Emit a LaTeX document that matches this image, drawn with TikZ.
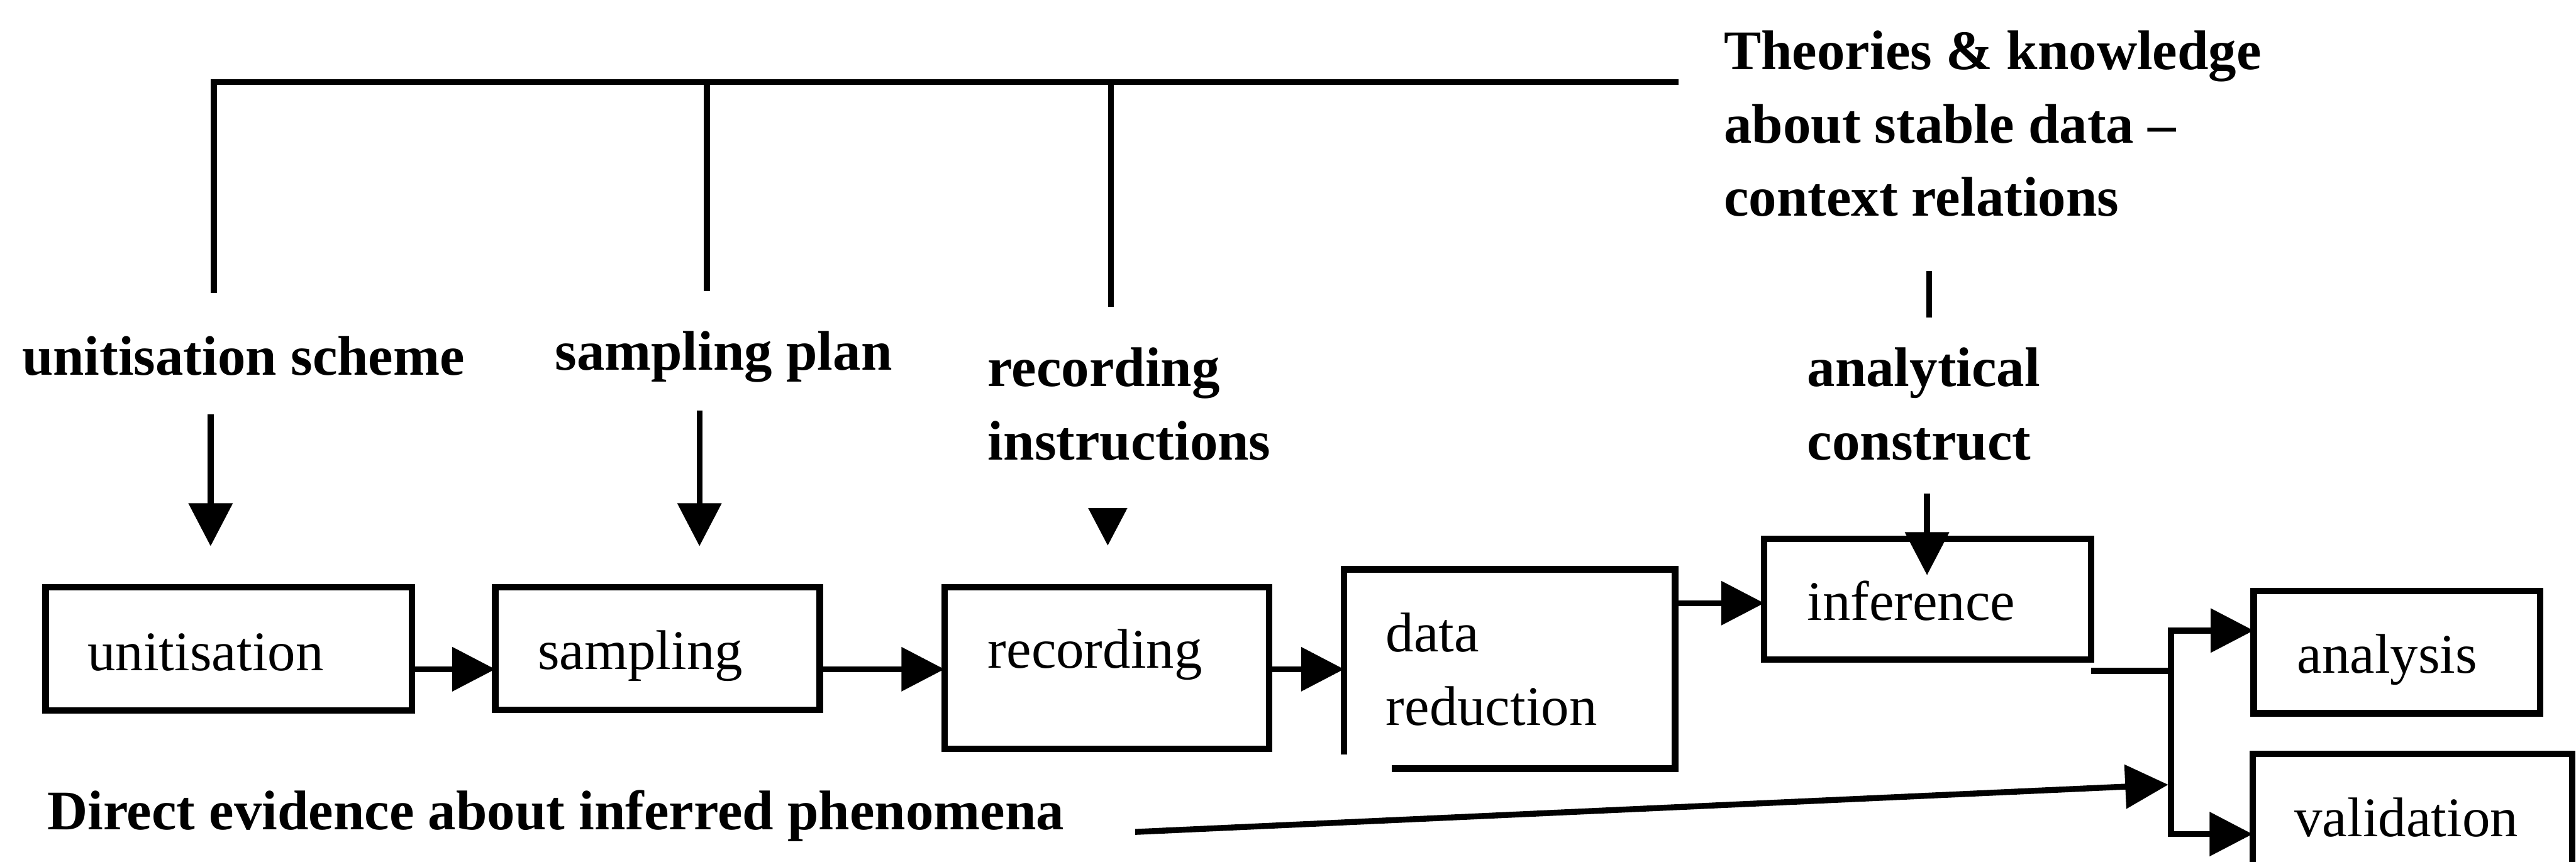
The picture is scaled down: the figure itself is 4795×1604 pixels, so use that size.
\documentclass[tikz,border=0pt]{standalone}
\usepackage{fontspec}
\setmainfont{Liberation Serif}
\usetikzlibrary{arrows.meta,calc,fit}
\begin{document}
\begin{tikzpicture}[x=0.01cm, y=-0.01cm,
  line width=1.1mm, line join=miter,
  every node/.style={inner sep=0pt, outer sep=0pt},
  boxline/.style={line width=1.2mm},
  box/.style={draw, boxline, rectangle},
  arr/.style={-{Triangle[length=8mm,width=8mm]}},
  smallarr/.style={-{Triangle[length=7mm,width=7mm]}},
  lbl/.style={font=\fontsize{29.6pt}{38.7pt}\selectfont\bfseries, align=left, anchor=base west},
  txt/.style={font=\fontsize{29.6pt}{38.7pt}\selectfont, align=left, anchor=base west}]

% canvas
\clip (0,0) rectangle (4795,1604);
\fill[white] (0,0) rectangle (4795,1604);

% process boxes
\node[box, fit={(85,1093) (767,1323)}] (ut) {};
\node[box, fit={(922,1093) (1526,1322)}] (sp) {};
\node[box, fit={(1758,1093) (2362,1394)}] (rec) {};
\node[fit={(2502,1060) (3118,1431)}] (dr) {};
\node[box, fit={(3284,1003) (3892,1228)}] (inf) {};
\node[box, fit={(4195,1100) (4728,1328)}] (an) {};
\node[box, fit={(4193,1404) (4788,1700)}] (val) {};

% data reduction frame (open at the lower left corner)
\draw[boxline] ($(dr.south west)+(89,0)$) -- (dr.south east) -- (dr.north east)
  -- (dr.north west) -- ($(dr.north west)+(0,345)$);

% box texts (base anchor = baseline of the last line)
\node[txt] (utt) at (163,1249) {unitisation};
\node[txt] (spt) at (1001,1246) {sampling};
\node[txt] (rect) at (1839,1244) {recording};
\node[txt] (drt) at (2580,1350) {data\\reduction};
\node[txt] (inft) at (3364,1155) {inference};
\node[txt] (ant) at (4276,1253) {analysis};
\node[txt] (valt) at (4271,1557) {validation};

% bold labels
\node[lbl] (theo) at (3209,402) {Theories \& knowledge\\about stable data --\\context relations};
\node[lbl] (usch) at (41,698) {unitisation scheme};
\node[lbl] (spl) at (1033,689) {sampling plan};
\node[lbl] (rins) at (1839,856) {recording\\instructions};
\node[lbl] (acon) at (3364,856) {analytical\\construct};
\node[lbl] (dev) at (88,1545) {Direct evidence about inferred phenomena};

% theory tree
\coordinate (t1) at (3125,153);
\coordinate (v1) at (398,545);
\coordinate (v2) at (1316,542);
\coordinate (v3) at (2068,571);
\draw (v1) -- (v1 |- t1) -- (t1);
\draw (v2 |- t1) -- (v2);
\draw (v3 |- t1) -- (v3);
\coordinate (tk1) at (3591,504);
\coordinate (tk2) at (3591,591);
\draw (tk1) -- (tk2);

% downward arrows from the plans
\coordinate (a1) at (392,772);
\coordinate (a1e) at (392,1017);
\coordinate (a2) at (1302,765);
\coordinate (a2e) at (1302,1017);
\coordinate (a3) at (2062,947);
\coordinate (a3e) at (2062,1016);
\draw[arr] (a1) -- (a1e);
\draw[arr] (a2) -- (a2e);
\draw[smallarr] (a3) -- (a3e);
\coordinate (a4) at (3587,919);
\coordinate (a4e) at (3587,1071);
\draw[arr] (a4) -- (a4e);

% main flow
\coordinate (row) at (0,1246);
\coordinate (row2) at (0,1123);
\draw[arr] (ut.east |- row) -- (sp.west |- row);
\draw[arr] (sp.east |- row) -- (rec.west |- row);
\draw[arr] (rec.east |- row) -- (dr.west |- row);
\draw[arr] (dr.east |- row2) -- (inf.west |- row2);

% output bus
\coordinate (bus) at (4041,0);
\coordinate (out) at (0,1249);
\coordinate (bt) at (0,1174);
\coordinate (bb) at (0,1553);
\draw (inf.east |- out) -- (bus |- out);
\draw[arr] (bus |- bb) -- (bus |- bt) -- (an.west |- bt);
\draw[arr] (bus |- bt) -- (bus |- bb) -- (val.west |- bb);

% direct evidence
\coordinate (ds) at (2113,1549);
\coordinate (de) at (4036,1461);
\draw[arr] (ds) -- (de);
\end{tikzpicture}
\end{document}
